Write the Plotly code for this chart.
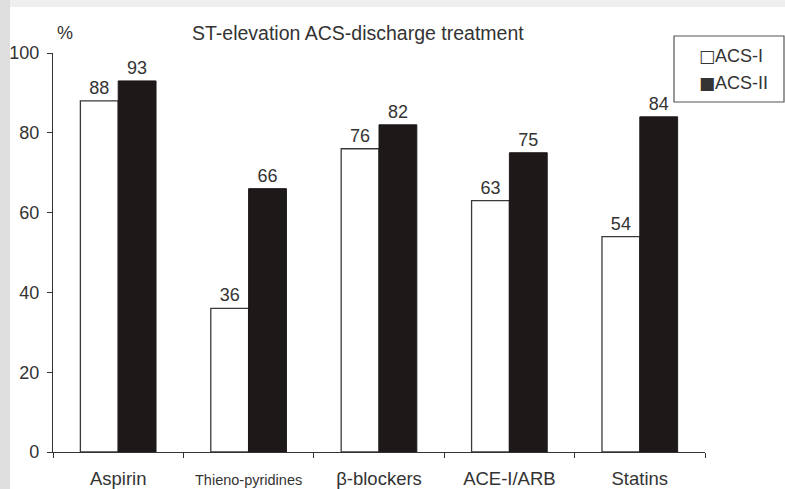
import plotly.graph_objects as go

# Discharge treatment rates (%) after ST-elevation ACS
categories = ["Aspirin", "Thieno-pyridines", "β-blockers", "ACE-I/ARB", "Statins"]
tick_labels = ["Aspirin", '<span style="font-size:14.5px">Thieno-pyridines</span>',
               "β-blockers", "ACE-I/ARB", "Statins"]
acs_1 = [88, 36, 76, 63, 54]
acs_2 = [93, 66, 82, 75, 84]
y_ticks = [0, 20, 40, 60, 80, 100]

FONT = "Liberation Sans, Arial, sans-serif"
INK = "#333333"

W, H = 785, 489
L, R, T, B = 53, 80, 53, 37
PW, PH = W - L - R, H - T - B


def px_x(p):
    return (p - L) / PW


def px_y(p):
    return (H - B - p) / PH


fig = go.Figure()
fig.add_trace(go.Bar(
    x=categories, y=acs_1, name="ACS-I",
    marker=dict(color="white", line=dict(color="#3a3a3a", width=1.3)),
    text=acs_1, textposition="outside", cliponaxis=False,
    textfont=dict(family=FONT, size=18, color=INK),
))
fig.add_trace(go.Bar(
    x=categories, y=acs_2, name="ACS-II",
    marker=dict(color="#1d1919", line=dict(color="#1d1919", width=1)),
    text=acs_2, textposition="outside", cliponaxis=False,
    textfont=dict(family=FONT, size=18, color=INK),
))

shapes = [
    # soft grey frame strips
    dict(type="rect", xref="paper", yref="paper", layer="below",
         x0=px_x(-5), x1=px_x(10), y0=px_y(500), y1=px_y(-5),
         fillcolor="#dedede", line=dict(width=0)),
    dict(type="rect", xref="paper", yref="paper", layer="below",
         x0=px_x(10), x1=px_x(800), y0=px_y(7), y1=px_y(-5),
         fillcolor="#efefef", line=dict(width=0)),
    # legend box
    dict(type="rect", xref="paper", yref="paper",
         x0=px_x(674), x1=px_x(784), y0=px_y(102), y1=px_y(36),
         fillcolor="rgba(0,0,0,0)", line=dict(color="#555555", width=1.2)),
]

GLYPH = '<span style="font-family:DejaVu Sans;font-size:17px">{}</span>'

annotations = [
    dict(text="%", x=px_x(65), y=px_y(33), xref="paper", yref="paper",
         xanchor="center", yanchor="middle",
         showarrow=False, font=dict(family=FONT, size=18, color=INK)),
    dict(text="ST-elevation ACS-discharge treatment", x=px_x(358), y=px_y(33),
         xref="paper", yref="paper", xanchor="center", yanchor="middle",
         showarrow=False, font=dict(family=FONT, size=19.5, color=INK)),
    dict(text=GLYPH.format("□") + "ACS-I", x=px_x(697), y=px_y(56),
         xref="paper", yref="paper", xanchor="left", yanchor="middle",
         showarrow=False, font=dict(family=FONT, size=18, color=INK)),
    dict(text=GLYPH.format("■") + "ACS-II", x=px_x(697), y=px_y(83),
         xref="paper", yref="paper", xanchor="left", yanchor="middle",
         showarrow=False, font=dict(family=FONT, size=18, color=INK)),
]

fig.update_layout(
    width=W, height=H,
    margin=dict(l=L, r=R, t=T, b=B, pad=0),
    paper_bgcolor="white", plot_bgcolor="white",
    barmode="group", bargap=0.42, bargroupgap=0,
    showlegend=False,
    font=dict(family=FONT, size=18, color=INK),
    shapes=shapes, annotations=annotations,
    xaxis=dict(
        tickvals=categories, ticktext=tick_labels,
        tickson="boundaries", ticks="outside", ticklen=5, tickcolor="#333",
        showline=True, linecolor="#333", linewidth=1.3,
        showgrid=False, zeroline=False, automargin=False,
        tickfont=dict(family=FONT, size=18.5, color=INK),
        ticklabelstandoff=10,
    ),
    yaxis=dict(
        range=[0, 100], tickvals=y_ticks,
        ticks="outside", ticklen=5, tickcolor="#333",
        showline=True, linecolor="#333", linewidth=1.3,
        showgrid=False, zeroline=False, automargin=False,
        tickfont=dict(family=FONT, size=18, color=INK),
        ticklabelstandoff=4,
    ),
)

fig.write_html("out.html")
